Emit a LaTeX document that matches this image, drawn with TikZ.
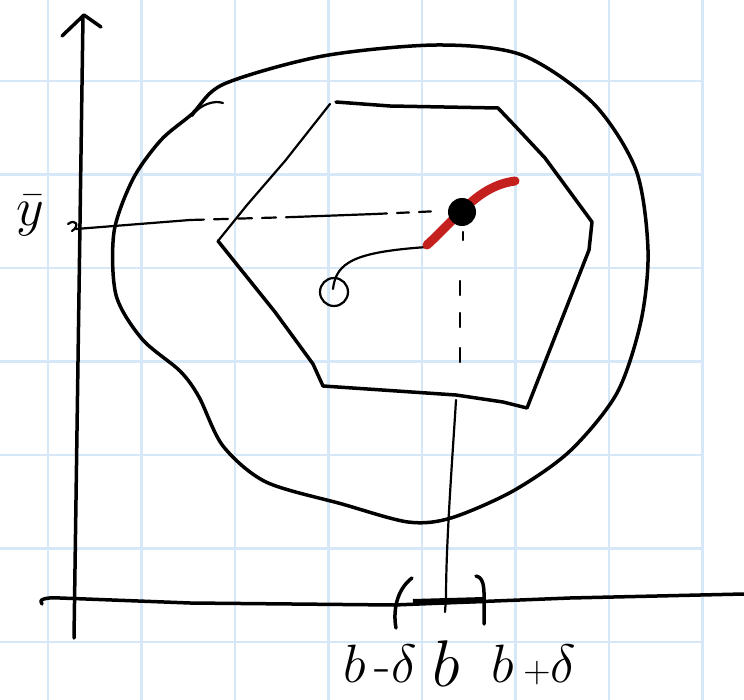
\RequirePackage{fix-cm}
\documentclass[tikz,border=0pt]{standalone}
\definecolor{gridblue}{RGB}{214,232,247}
\definecolor{inkred}{RGB}{196,32,30}
\tikzset{
  ink/.style={line width=3.5pt, line cap=round, line join=round},
  thinink/.style={line width=2.2pt, line cap=round, line join=round},
  handlabel/.style={inner sep=0pt, font=\fontsize{54}{54}\selectfont}
}
\begin{document}
\begin{tikzpicture}[x=1pt,y=-1pt]
  \useasboundingbox (0,0) rectangle (744,700);
  % squared paper
  \foreach \i in {0,...,7}
    \draw[gridblue, line width=2.5pt] (48+93.5*\i,0) -- (48+93.5*\i,700);
  \foreach \j in {0,...,6}
    \draw[gridblue, line width=2.5pt] (0,81+93.5*\j) -- (701,81+93.5*\j);
  % axes
  \draw[ink] (74,638) -- (83,16);
  \draw[ink] (62,36) -- (84,15) -- (101,27);
  \draw[ink] (42,604) .. controls (38,600) and (44,597) .. (60,598) -- (190,603) -- (394,605) -- (570,598) -- (744,594);
  % outer region
  \draw[ink] plot[smooth cycle, tension=0.5] coordinates {
    (224,84) (323,56) (437,45) (522,55) (593,103) (636,170) (648,250)
    (641,321) (617,393) (570,451) (513,491) (451,518) (408,522) (342,504)
    (266,482) (223,446) (199,397) (180,371) (142,339) (116,295) (114,232)
    (133,179) (161,140) (192,114)};
  \draw[thinink] (192,116) .. controls (200,104) and (215,100) .. (223,103);
  % hexagon
  \draw[ink] (336,102) -- (390,106) -- (498,108) -- (517,128) -- (545,158)
    -- (570,192) -- (592,222) -- (589,250) -- (527,408) -- (503,402)
    -- (456,395) -- (323,386) -- (313,364) -- (275,312) -- (218,241);
  \draw[thinink] (218,241) -- (247,205) -- (285,161) -- (330,104);
  % level line to y bar
  \draw[thinink] (76,229) -- (190,220);
  \draw[thinink, dash pattern=on 14pt off 10pt] (190,220) -- (294,217);
  \draw[thinink] (294,217) -- (375,214);
  \draw[thinink, dash pattern=on 12pt off 10pt] (375,214) -- (440,211);
  \draw[thinink] (68,224) .. controls (76,218) and (80,226) .. (72,231);
  % path from start point
  \coordinate (start) at (334,292);
  \coordinate (pt) at (462,212);
  \draw[thinink] (start) circle[radius=14];
  \draw[thinink] (333,289) .. controls (336,262) and (355,252) .. (427,247);
  \draw[inkred, line width=9pt, line cap=round] (427,245) .. controls (460,215) and (478,186) .. (515,181);
  \fill (pt) circle[radius=14];
  % projection onto the axis
  \draw[thinink] (463,232) -- (463,240);
  \foreach \s in {281,313,348}
    \draw[thinink] (460,\s) -- (460,\s+14);
  \draw[thinink] (456,400) .. controls (453,450) and (446,540) .. (446,598) -- (445,612);
  % interval
  \draw[line width=6pt] (413,602) -- (484,600);
  \draw[ink] (412,578) .. controls (396,590) and (393,612) .. (396,628);
  \draw[ink] (476,576) .. controls (486,578) and (484,592) .. (484,624);
  % labels
  \node[handlabel] (bminus) at (380,664) {$b\,\textrm{-}\delta$};
  \node[handlabel, font=\fontsize{66}{66}\selectfont] (bmid) at (446,664) {$b$};
  \node[handlabel] (bplus) at (534,665) {$b\,{\scriptstyle+}\delta$};
  \node[handlabel] (ybar) at (30,216) {$\bar{y}$};
\end{tikzpicture}
\end{document}
